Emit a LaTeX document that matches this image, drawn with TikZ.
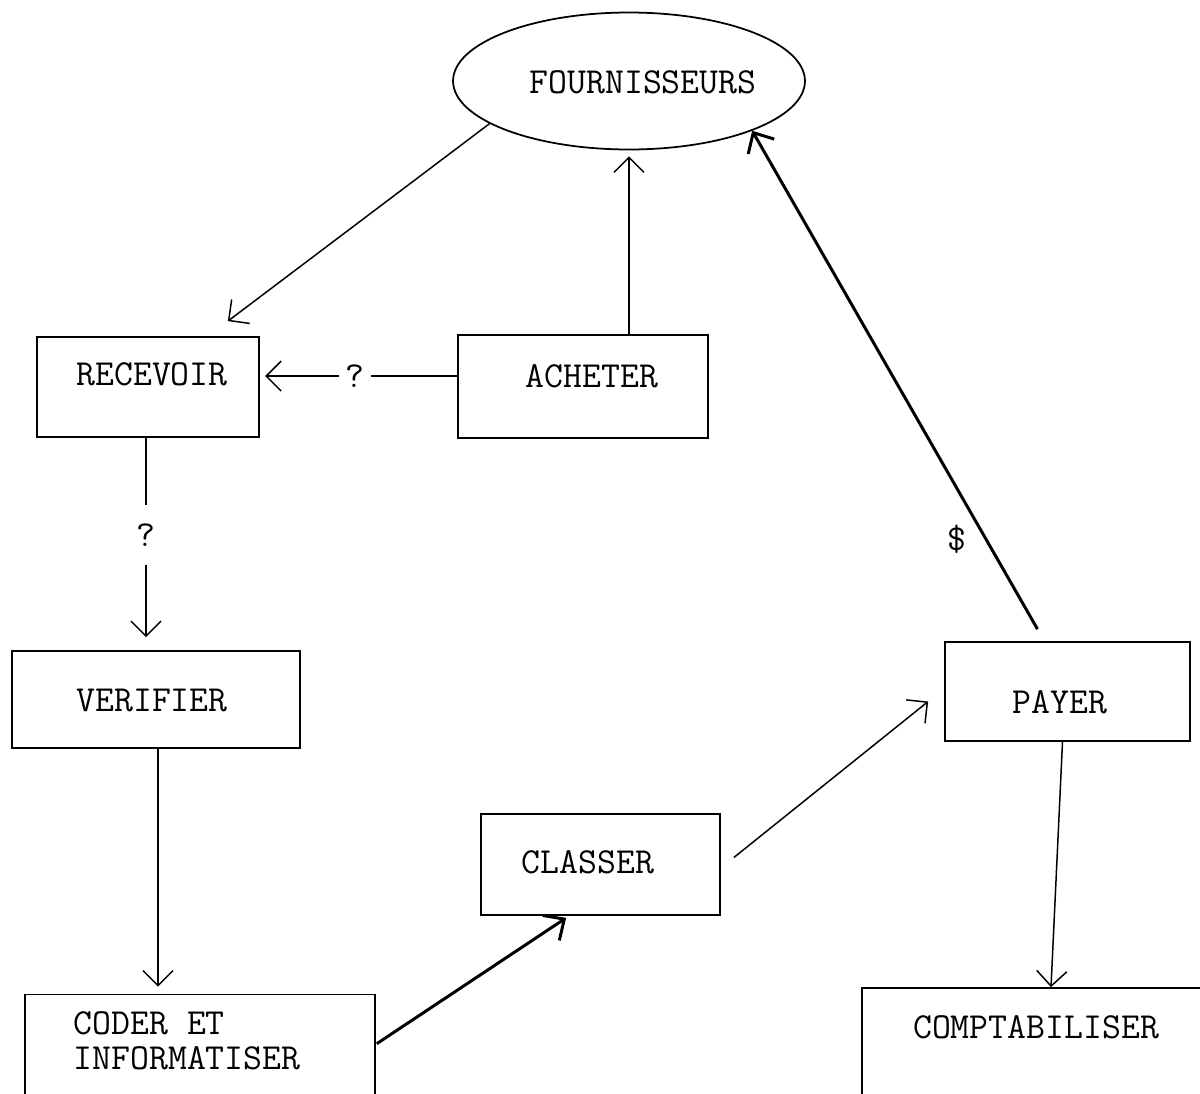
\documentclass[tikz,border=0pt]{standalone}
\usepackage{fontspec}
\setmonofont{Latin Modern Mono}
\usetikzlibrary{arrows.meta,shapes.geometric,calc}
\begin{document}
\begin{tikzpicture}[x=0.02cm,y=-0.02cm,
  box/.style={draw,line width=1pt,rectangle,inner sep=0pt},
  lbl/.style={font=\ttfamily\fontsize{20.9}{23}\selectfont,inner sep=0pt},
  flow/.style={line width=0.85pt,-{Straight Barb[length=0.3cm,width=0.6cm]}},
  bold flow/.style={line width=1.7pt,-{Straight Barb[length=0.32cm,width=0.6cm]}},
  gap/.style={fill=white,font=\ttfamily\fontsize{20.9}{23}\selectfont,inner sep=0pt}]
\useasboundingbox (0,0) rectangle (1200,1093);
\clip (0,0) rectangle (1200,1093);

% supplier ellipse
\node[draw,line width=1pt,ellipse,minimum width=7.04cm,minimum height=2.74cm,inner sep=0pt] (fourn) at (629,81) {};
\node[lbl] (fourn-t) at (643,82) {FOURNISSEURS};

% process boxes
\node[box,minimum width=4.44cm,minimum height=2cm] (recevoir) at (148,387) {};
\node[lbl] (recevoir-t) at (152,374) {RECEVOIR};

\node[box,minimum width=5cm,minimum height=2.06cm] (acheter) at (583,386.5) {};
\node[lbl] (acheter-t) at (592,376) {ACHETER};

\node[box,minimum width=5.76cm,minimum height=1.94cm] (verifier) at (156,699.5) {};
\node[lbl] (verifier-t) at (152,700) {VERIFIER};

\node[box,minimum width=4.78cm,minimum height=2.02cm] (classer) at (600.5,864.5) {};
\node[lbl] (classer-t) at (588,862) {CLASSER};

\node[box,minimum width=4.9cm,minimum height=1.98cm] (payer) at (1067.5,691.5) {};
\node[lbl] (payer-t) at (1060,702) {PAYER};

\node[box,minimum width=7cm,minimum height=3.1cm] (coder) at (200,1072) {};
\node[lbl,align=left] (coder-t) at (187,1041) {CODER ET\\[-3pt]INFORMATISER};

\node[box,minimum width=7.56cm,minimum height=3.24cm] (compt) at (1051,1069) {};
\node[lbl] (compt-t) at (1036,1027) {COMPTABILISER};

% connectors
\draw[flow] (fourn.197) -- ($(recevoir.north east)+(-32,-15)$);
\draw[flow,shorten >=0.12cm] (acheter.north -| fourn.south) -- (fourn.south);
\draw[flow,shorten >=3pt] (acheter.west |- acheter-t) --
  node[gap,pos=0.518,minimum width=0.64cm] (q1) {?} (recevoir.east |- acheter-t);
\draw[flow,shorten >=0.26cm] ($(recevoir.south)+(-2,0)$) --
  node[gap,pos=0.458,minimum height=1.2cm] (q2) {?} ($(verifier.north)+(-10,0)$);
\draw[flow,shorten >=0.14cm] (verifier.south -| 158,0) -- (coder.north -| 158,0);
\draw[bold flow] ($(coder.north east)+(1,50)$) -- ($(classer.south west)+(86,2)$);
\draw[flow] ($(classer.east)+(13,-7)$) -- ($(payer.west)+(-16,10)$);
\draw[bold flow] ($(payer.north)+(-30,-12)$) --
  node[lbl,pos=0.18,anchor=east,inner xsep=0.36cm] (dollar) {\$} (fourn.338);
\draw[flow] ($(payer.south)+(-5,0)$) -- (compt.north);
\end{tikzpicture}
\end{document}
